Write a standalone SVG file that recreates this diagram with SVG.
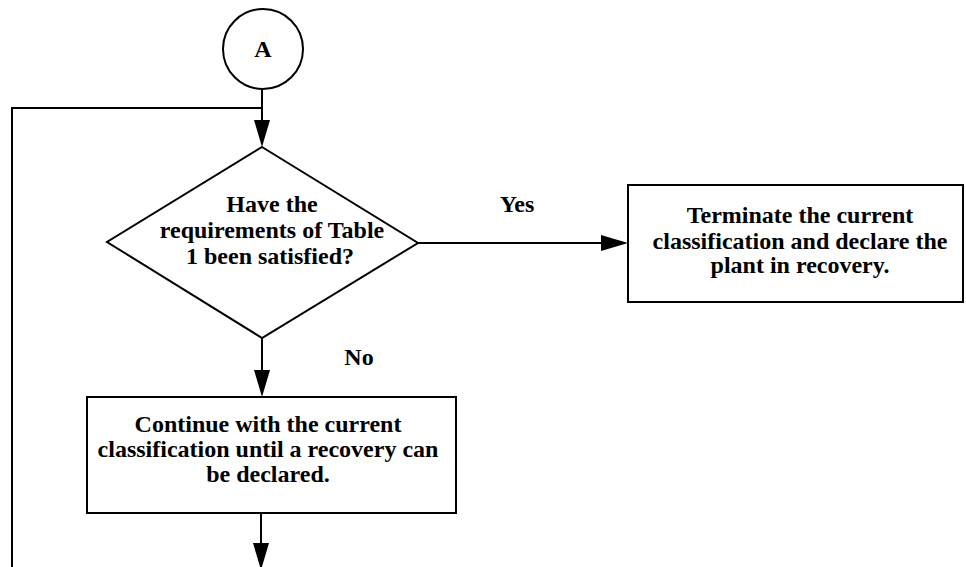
<svg xmlns="http://www.w3.org/2000/svg" width="966" height="567" viewBox="0 0 966 567">
<style>
.s{fill:none;stroke:#000;stroke-width:2}
.n{fill:#fff;stroke:#000;stroke-width:2}
.t{font-family:"Liberation Serif","Times New Roman",serif;font-weight:bold;font-size:24px;fill:#000;text-anchor:middle}
.h{fill:#000;stroke:none}
</style>
<rect width="966" height="567" fill="#fff"/>
<g id="connectors">
  <path class="s" d="M262 89 V122"/>
  <path class="s" d="M262 108 H12 V567"/>
  <polygon class="h" points="254,120 270,120 262,147"/>
  <path class="s" d="M418 243 H603"/>
  <polygon class="h" points="601,235 601,251 628,243"/>
  <path class="s" d="M262 338 V372"/>
  <polygon class="h" points="254,370 270,370 262,397"/>
  <path class="s" d="M261 513 V545"/>
  <polygon class="h" points="253,543 269,543 261,570"/>
  <text class="t" x="517" y="212">Yes</text>
  <text class="t" x="359" y="365">No</text>
</g>
<g id="nodeA">
  <circle class="n" cx="263" cy="49" r="40"/>
  <text class="t" x="263" y="57">A</text>
</g>
<g id="decision">
  <polygon class="n" points="262,147 418,243 262,338 107,242"/>
  <text class="t" x="272" y="212">Have the</text>
  <text class="t" x="272" y="238">requirements of Table</text>
  <text class="t" x="270" y="264">1 been satisfied?</text>
</g>
<g id="terminate">
  <rect class="n" x="628" y="185" width="335" height="117"/>
  <text class="t" x="800" y="223">Terminate the current</text>
  <text class="t" x="800" y="249">classification and declare the</text>
  <text class="t" x="800" y="273">plant in recovery.</text>
</g>
<g id="continue">
  <rect class="n" x="87" y="397" width="369" height="116"/>
  <text class="t" x="268" y="432">Continue with the current</text>
  <text class="t" x="268" y="457">classification until a recovery can</text>
  <text class="t" x="268" y="482">be declared.</text>
</g>
</svg>
